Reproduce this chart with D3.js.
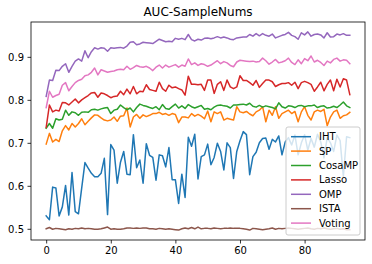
<!DOCTYPE html>
<html>
<head>
<meta charset="utf-8">
<script src="https://cdn.jsdelivr.net/npm/d3@7"></script>
<style>
  body { margin: 0; background: #fff; }
  svg { display: block; font-family: "DejaVu Sans", sans-serif; }
</style>
</head>
<body>
<div id="chart"></div>
<script>
// series values, index 0..94
var IHT = [0.530,0.521,0.597,0.595,0.530,0.551,0.601,0.532,0.631,0.540,
  0.535,0.595,0.654,0.641,0.629,0.621,0.621,0.629,0.664,0.533,
  0.696,0.683,0.606,0.655,0.680,0.627,0.626,0.719,0.642,0.660,
  0.606,0.698,0.671,0.666,0.613,0.672,0.670,0.644,0.689,0.614,
  0.614,0.559,0.627,0.573,0.713,0.692,0.720,0.616,0.668,0.672,
  0.697,0.649,0.666,0.699,0.680,0.637,0.700,0.689,0.617,0.680,
  0.705,0.726,0.719,0.626,0.668,0.678,0.700,0.710,0.711,0.685,
  0.708,0.702,0.716,0.672,0.702,0.712,0.695,0.718,0.672,0.700,
  0.719,0.683,0.710,0.690,0.720,0.702,0.665,0.712,0.700,0.680,
  0.718,0.705,0.622,0.714,0.712];
var SP = [0.697,0.722,0.702,0.708,0.703,0.728,0.740,0.730,0.745,0.737,
  0.745,0.756,0.742,0.750,0.758,0.765,0.764,0.758,0.753,0.751,
  0.753,0.760,0.750,0.762,0.763,0.781,0.737,0.760,0.766,0.757,
  0.765,0.761,0.764,0.768,0.768,0.771,0.766,0.768,0.764,0.768,
  0.766,0.747,0.760,0.760,0.758,0.768,0.762,0.766,0.762,0.756,
  0.774,0.749,0.772,0.768,0.772,0.753,0.757,0.755,0.753,0.784,
  0.772,0.770,0.773,0.767,0.763,0.772,0.776,0.784,0.749,0.776,
  0.764,0.784,0.757,0.768,0.772,0.776,0.768,0.773,0.749,0.772,
  0.784,0.764,0.753,0.772,0.776,0.773,0.778,0.740,0.760,0.772,
  0.776,0.757,0.763,0.765,0.771];
var CosaMP = [0.734,0.745,0.734,0.756,0.753,0.755,0.776,0.764,0.772,0.770,
  0.764,0.771,0.772,0.771,0.777,0.778,0.776,0.779,0.781,0.782,
  0.768,0.776,0.778,0.788,0.782,0.777,0.781,0.772,0.782,0.790,
  0.787,0.785,0.782,0.780,0.784,0.777,0.789,0.780,0.778,0.784,
  0.790,0.781,0.786,0.780,0.789,0.784,0.781,0.784,0.787,0.778,
  0.780,0.777,0.783,0.787,0.788,0.786,0.785,0.781,0.788,0.788,
  0.789,0.790,0.788,0.792,0.785,0.783,0.787,0.783,0.786,0.784,
  0.782,0.779,0.793,0.784,0.781,0.786,0.785,0.782,0.786,0.787,
  0.784,0.786,0.786,0.788,0.782,0.785,0.786,0.781,0.782,0.785,
  0.782,0.788,0.795,0.786,0.782];
var Lasso = [0.736,0.788,0.772,0.776,0.774,0.794,0.793,0.788,0.795,0.802,
  0.793,0.800,0.805,0.810,0.816,0.817,0.806,0.816,0.814,0.810,
  0.805,0.808,0.809,0.820,0.812,0.825,0.814,0.831,0.814,0.820,
  0.819,0.835,0.824,0.822,0.820,0.841,0.826,0.820,0.834,0.828,
  0.830,0.826,0.823,0.811,0.855,0.836,0.836,0.835,0.836,0.822,
  0.846,0.846,0.815,0.836,0.842,0.822,0.846,0.830,0.826,0.830,
  0.856,0.845,0.845,0.840,0.834,0.845,0.829,0.838,0.846,0.846,
  0.842,0.831,0.835,0.838,0.838,0.840,0.834,0.841,0.826,0.840,
  0.843,0.840,0.836,0.820,0.830,0.841,0.821,0.836,0.846,0.821,
  0.848,0.830,0.849,0.846,0.812];
var OMP = [0.808,0.846,0.845,0.869,0.868,0.878,0.884,0.864,0.878,0.890,
  0.895,0.890,0.914,0.898,0.912,0.921,0.918,0.921,0.920,0.913,
  0.921,0.920,0.921,0.922,0.920,0.925,0.934,0.935,0.928,0.930,
  0.934,0.933,0.932,0.931,0.936,0.941,0.938,0.935,0.936,0.935,
  0.943,0.941,0.943,0.940,0.952,0.940,0.937,0.941,0.939,0.943,
  0.944,0.942,0.944,0.947,0.944,0.946,0.944,0.941,0.940,0.944,
  0.945,0.946,0.946,0.952,0.948,0.954,0.949,0.954,0.950,0.948,
  0.953,0.944,0.947,0.950,0.952,0.957,0.950,0.947,0.941,0.956,
  0.951,0.958,0.948,0.952,0.953,0.951,0.944,0.956,0.946,0.947,
  0.953,0.951,0.954,0.950,0.950];
var ISTA = [0.500,0.503,0.499,0.501,0.500,0.499,0.498,0.500,0.499,0.501,
  0.500,0.502,0.500,0.501,0.500,0.499,0.499,0.500,0.502,0.504,
  0.499,0.500,0.499,0.499,0.500,0.502,0.502,0.501,0.502,0.501,
  0.502,0.502,0.500,0.500,0.499,0.501,0.500,0.499,0.500,0.499,
  0.498,0.497,0.500,0.502,0.500,0.503,0.500,0.504,0.500,0.501,
  0.501,0.500,0.502,0.501,0.500,0.501,0.501,0.502,0.501,0.501,
  0.501,0.500,0.499,0.497,0.501,0.500,0.499,0.498,0.499,0.500,
  0.502,0.499,0.501,0.500,0.501,0.502,0.501,0.500,0.499,0.500,
  0.501,0.502,0.500,0.499,0.501,0.500,0.502,0.500,0.499,0.500,
  0.501,0.499,0.500,0.498,0.498];
var Voting = [0.782,0.820,0.806,0.810,0.813,0.834,0.840,0.821,0.831,0.840,
  0.845,0.848,0.856,0.858,0.864,0.874,0.858,0.870,0.867,0.864,
  0.866,0.867,0.870,0.871,0.870,0.878,0.871,0.875,0.880,0.877,
  0.876,0.878,0.874,0.868,0.876,0.881,0.874,0.881,0.876,0.879,
  0.882,0.876,0.881,0.878,0.895,0.882,0.886,0.880,0.884,0.882,
  0.878,0.881,0.886,0.891,0.884,0.889,0.886,0.880,0.877,0.888,
  0.892,0.891,0.890,0.889,0.890,0.888,0.889,0.897,0.891,0.883,
  0.888,0.894,0.886,0.888,0.891,0.897,0.887,0.882,0.893,0.884,
  0.896,0.891,0.902,0.888,0.892,0.887,0.880,0.890,0.886,0.894,
  0.897,0.890,0.893,0.892,0.884];

var names = ["IHT", "SP", "CosaMP", "Lasso", "OMP", "ISTA", "Voting"];
var seriesValues = [IHT, SP, CosaMP, Lasso, OMP, ISTA, Voting];
var colors = ["#1f77b4", "#ff7f0e", "#2ca02c", "#d62728", "#9467bd", "#8c564b", "#e377c2"];
var xTicks = [0, 20, 40, 60, 80];
var yTicks = [0.5, 0.6, 0.7, 0.8, 0.9];
var title = "AUC-SampleNums";

var W = 372, H = 264;
var box = { left: 31, right: 365, top: 22, bottom: 240 };

var svg = d3.select("#chart").append("svg").attr("width", W).attr("height", H);

// matplotlib style 5% margins around the data
var n = IHT.length;
var xPad = (n - 1) * 0.05;
var all = [].concat.apply([], seriesValues);
var yMin = d3.min(all), yMax = d3.max(all), yPad = (yMax - yMin) * 0.05;

var x = d3.scaleLinear().domain([-xPad, n - 1 + xPad]).range([box.left, box.right]);
var y = d3.scaleLinear().domain([yMin - yPad, yMax + yPad]).range([box.bottom, box.top]);

var line = d3.line().x(function (d, i) { return x(i); }).y(function (d) { return y(d); });

svg.append("clipPath").attr("id", "clip").append("rect")
  .attr("x", box.left).attr("y", box.top)
  .attr("width", box.right - box.left).attr("height", box.bottom - box.top);

var plot = svg.append("g").attr("clip-path", "url(#clip)");
seriesValues.forEach(function (vals, k) {
  plot.append("path").datum(vals)
    .attr("d", line)
    .attr("fill", "none")
    .attr("stroke", colors[k])
    .attr("stroke-width", 1.5)
    .attr("stroke-linejoin", "round")
    .attr("stroke-linecap", "square");
});

// axes
var xAxis = svg.append("g").attr("transform", "translate(0," + box.bottom + ")")
  .call(d3.axisBottom(x).tickValues(xTicks).tickFormat(d3.format("d")).tickSize(3.5).tickPadding(3.5));
var yAxis = svg.append("g").attr("transform", "translate(" + box.left + ",0)")
  .call(d3.axisLeft(y).tickValues(yTicks).tickFormat(d3.format(".1f")).tickSize(3.5).tickPadding(3.5));

[xAxis, yAxis].forEach(function (a) {
  a.select(".domain").remove();
  a.selectAll(".tick line").attr("stroke", "#000").attr("stroke-width", 0.8);
  a.selectAll(".tick text").attr("fill", "#000").style("font-size", "10px")
    .style("font-family", "'DejaVu Sans', sans-serif");
});

svg.append("rect")
  .attr("x", box.left).attr("y", box.top)
  .attr("width", box.right - box.left).attr("height", box.bottom - box.top)
  .attr("fill", "none").attr("stroke", "#000").attr("stroke-width", 0.8);

svg.append("text")
  .attr("x", (box.left + box.right) / 2).attr("y", box.top - 6)
  .attr("text-anchor", "middle")
  .style("font-size", "12px")
  .text(title);

// legend, lower right
var lg = { x: 286, y: 127, w: 74, h: 108, first: 136.7, step: 14.4 };
var legend = svg.append("g");
legend.append("rect")
  .attr("x", lg.x).attr("y", lg.y).attr("width", lg.w).attr("height", lg.h)
  .attr("rx", 2).attr("ry", 2)
  .attr("fill", "#fff").attr("fill-opacity", 0.8)
  .attr("stroke", "#cccccc").attr("stroke-width", 1);

names.forEach(function (name, k) {
  var cy = lg.first + k * lg.step;
  legend.append("line")
    .attr("x1", lg.x + 5).attr("x2", lg.x + 25)
    .attr("y1", cy).attr("y2", cy)
    .attr("stroke", colors[k]).attr("stroke-width", 1.5);
  legend.append("text")
    .attr("x", lg.x + 33).attr("y", cy).attr("dy", "0.35em")
    .style("font-size", "10px").attr("fill", "#000")
    .text(name);
});
</script>
</body>
</html>
